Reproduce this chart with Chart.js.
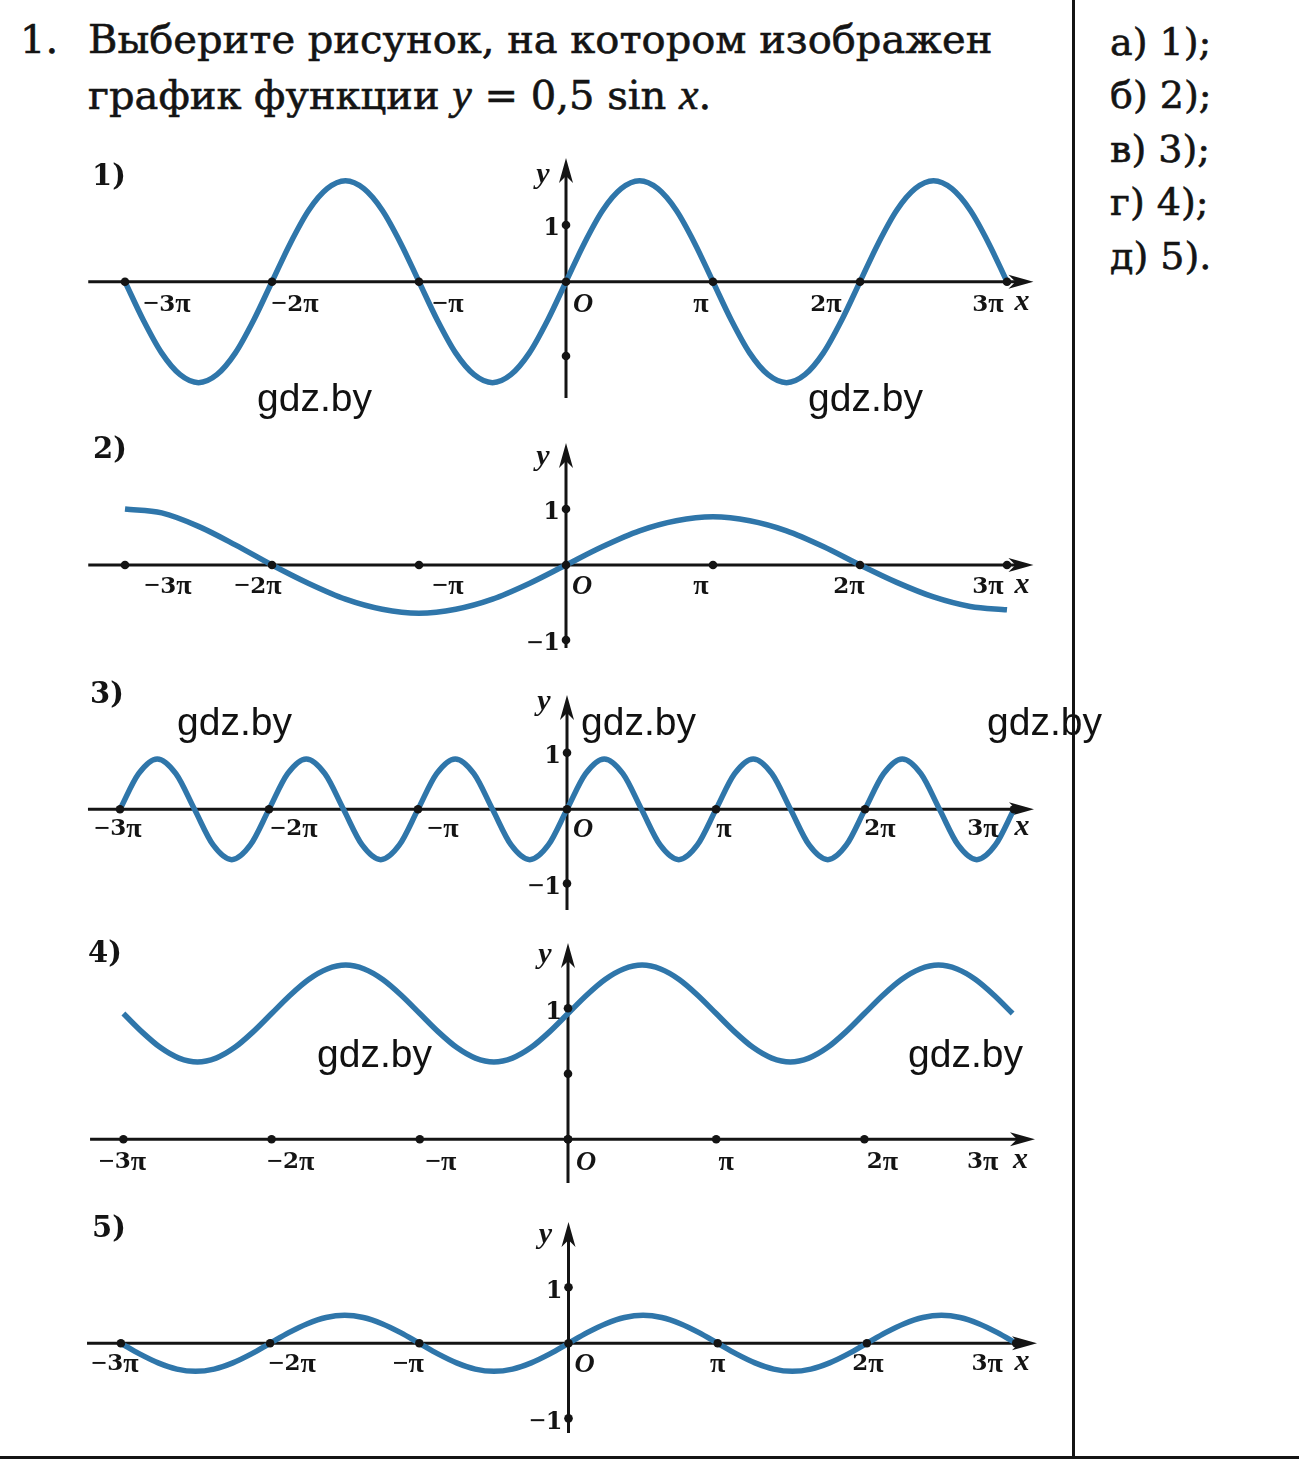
<!DOCTYPE html>
<html lang="ru">
<head>
<meta charset="utf-8">
<title>y = 0,5 sin x</title>
<script src="https://cdn.jsdelivr.net/npm/chart.js@4.4.1/dist/chart.umd.min.js"></script>
<style>
  html, body { margin: 0; padding: 0; background: #fff; }
  #page { position: relative; width: 1299px; height: 1459px; overflow: hidden;
          font-family: "DejaVu Serif", serif; color: #141414; }
  #page canvas { position: absolute; left: 0; }
  .t { position: absolute; white-space: nowrap; font-size: 40px; line-height: 1;
       -webkit-text-stroke: 0.6px #141414; }
  .a { position: absolute; white-space: nowrap; font-size: 38px; line-height: 1;
       -webkit-text-stroke: 0.6px #141414; }
  .t i { font-family: "Liberation Serif", serif; font-size: 44px; }
  .n { position: absolute; white-space: nowrap; font-size: 29px; line-height: 1; font-weight: bold; }
  .wm { position: absolute; white-space: nowrap; font-family: "Liberation Sans", Arial, sans-serif;
        font-size: 39px; line-height: 1; color: #111; z-index: 2; }
  .rule { position: absolute; background: #141414; z-index: 3; }
</style>
</head>
<body>
<div id="page">
  <div class="t" style="left:20px;top:19px">1.</div>
  <div class="t" style="left:88px;top:19px">Выберите рисунок, на котором изображен</div>
  <div class="t" style="left:88px;top:73px">график функции <i>y</i> = 0,5 sin <i>x</i>.</div>

  <div class="a" style="left:1110px;top:23px">а) 1);</div>
  <div class="a" style="left:1110px;top:76px">б) 2);</div>
  <div class="a" style="left:1110px;top:130px">в) 3);</div>
  <div class="a" style="left:1110px;top:183px">г) 4);</div>
  <div class="a" style="left:1110px;top:237px">д) 5).</div>

  <canvas id="c1" width="1299" height="285" style="top:140px"></canvas>
  <canvas id="c2" width="1299" height="240" style="top:425px"></canvas>
  <canvas id="c3" width="1299" height="260" style="top:665px"></canvas>
  <canvas id="c4" width="1299" height="270" style="top:925px"></canvas>
  <canvas id="c5" width="1299" height="255" style="top:1195px"></canvas>

  <div class="n" style="left:92px;top:161px">1)</div>
  <div class="n" style="left:93px;top:434px">2)</div>
  <div class="n" style="left:90px;top:679px">3)</div>
  <div class="n" style="left:88px;top:938px">4)</div>
  <div class="n" style="left:92px;top:1213px">5)</div>

  <div class="wm" style="left:257px;top:378px">gdz.by</div>
  <div class="wm" style="left:808px;top:378px">gdz.by</div>
  <div class="wm" style="left:177px;top:702px">gdz.by</div>
  <div class="wm" style="left:581px;top:702px">gdz.by</div>
  <div class="wm" style="left:987px;top:702px">gdz.by</div>
  <div class="wm" style="left:317px;top:1034px">gdz.by</div>
  <div class="wm" style="left:908px;top:1034px">gdz.by</div>

  <div class="rule" style="left:1072px;top:0;width:3px;height:1459px"></div>
  <div class="rule" style="left:0;top:1456px;width:1299px;height:3px"></div>
</div>
<script>
// x values are in units of pi
var xTickValues = [-3, -2, -1, 0, 1, 2, 3];
var xTickLabels = ['\u22123\u03c0', '\u22122\u03c0', '\u2212\u03c0', 'O', '\u03c0', '2\u03c0', '3\u03c0'];

var xQuarter = [-3, -2.75, -2.5, -2.25, -2, -1.75, -1.5, -1.25, -1, -0.75, -0.5, -0.25,
                0, 0.25, 0.5, 0.75, 1, 1.25, 1.5, 1.75, 2, 2.25, 2.5, 2.75, 3];
var xEighth = [-3, -2.875, -2.75, -2.625, -2.5, -2.375, -2.25, -2.125,
               -2, -1.875, -1.75, -1.625, -1.5, -1.375, -1.25, -1.125,
               -1, -0.875, -0.75, -0.625, -0.5, -0.375, -0.25, -0.125,
               0, 0.125, 0.25, 0.375, 0.5, 0.625, 0.75, 0.875,
               1, 1.125, 1.25, 1.375, 1.5, 1.625, 1.75, 1.875,
               2, 2.125, 2.25, 2.375, 2.5, 2.625, 2.75, 2.875, 3];

// curves
var curve1 = [0, -0.68, -1.26, -1.64, -1.78, -1.64, -1.26, -0.68,
              0, 0.68, 1.26, 1.64, 1.78, 1.64, 1.26, 0.68,
              0, -0.68, -1.26, -1.64, -1.78, -1.64, -1.26, -0.68,
              0, 0.68, 1.26, 1.64, 1.78, 1.64, 1.26, 0.68,
              0, -0.68, -1.26, -1.64, -1.78, -1.64, -1.26, -0.68,
              0, 0.68, 1.26, 1.64, 1.78, 1.64, 1.26, 0.68,
              0];
var curve2 = [1.0, 0.93, 0.69, 0.36, 0, -0.33, -0.61, -0.79, -0.86, -0.79, -0.61, -0.33,
              0, 0.33, 0.61, 0.79, 0.86, 0.79, 0.61, 0.33, 0, -0.31, -0.57, -0.74, -0.8];
var curve3 = [0, 0.63, 0.89, 0.63, 0, -0.63, -0.89, -0.63,
              0, 0.63, 0.89, 0.63, 0, -0.63, -0.89, -0.63,
              0, 0.63, 0.89, 0.63, 0, -0.63, -0.89, -0.63,
              0, 0.63, 0.89, 0.63, 0, -0.63, -0.89, -0.63,
              0, 0.63, 0.89, 0.63, 0, -0.63, -0.89, -0.63,
              0, 0.63, 0.89, 0.63, 0, -0.63, -0.89, -0.63,
              0];
var curve4 = [0.96, 0.82, 0.70, 0.62, 0.59, 0.62, 0.70, 0.82,
              0.96, 1.10, 1.22, 1.30, 1.33, 1.30, 1.22, 1.10,
              0.96, 0.82, 0.70, 0.62, 0.59, 0.62, 0.70, 0.82,
              0.96, 1.10, 1.22, 1.30, 1.33, 1.30, 1.22, 1.10,
              0.96, 0.82, 0.70, 0.62, 0.59, 0.62, 0.70, 0.82,
              0.96, 1.10, 1.22, 1.30, 1.33, 1.30, 1.22, 1.10,
              0.96];
var curve5 = [0, -0.19, -0.35, -0.46, -0.5, -0.46, -0.35, -0.19,
              0, 0.19, 0.35, 0.46, 0.5, 0.46, 0.35, 0.19,
              0, -0.19, -0.35, -0.46, -0.5, -0.46, -0.35, -0.19,
              0, 0.19, 0.35, 0.46, 0.5, 0.46, 0.35, 0.19,
              0, -0.19, -0.35, -0.46, -0.5, -0.46, -0.35, -0.19,
              0, 0.19, 0.35, 0.46, 0.5, 0.46, 0.35, 0.19,
              0];

// y axis marks
var yTicks1 = [1, -1.31];  var yTickLabels1 = ['1', ''];
var yTicks2 = [1, -1.34];  var yTickLabels2 = ['1', '\u22121'];
var yTicks3 = [1, -1.31];  var yTickLabels3 = ['1', '\u22121'];
var yTicks4 = [1, 0.5, 0]; var yTickLabels4 = ['1', '', ''];
var yTicks5 = [1, -1.34];  var yTickLabels5 = ['1', '\u22121'];

var ink = '#141414';
var curveColor = '#2f76aa';

// layout of each panel (pixels on the page)
var panels = [
  {id: 'c1', top: 140, height: 285, origin: 566, piPx: 147, axisY: 281.7, unitPx: 56.7,
   xAxis: [-3.25, 3.18], yAxis: [-2.05, 2.18], xs: xEighth, ys: curve1,
   xDots: [-3, -2, -1, 0, 1, 2, 3], yTicks: yTicks1, yLabels: yTickLabels1,
   labelDx: [42, 23, 29, 17, -12, -34, -19], labelDy: 23, xLetterDx: 15, yLetterDy: 17},
  {id: 'c2', top: 425, height: 240, origin: 566, piPx: 147, axisY: 565, unitPx: 56,
   xAxis: [-3.25, 3.18], yAxis: [-1.48, 2.18], xs: xQuarter, ys: curve2,
   xDots: [-3, -2, -1, 0, 1, 2, 3], yTicks: yTicks2, yLabels: yTickLabels2,
   labelDx: [43, -14, 29, 16, -12, -11, -19], labelDy: 22, xLetterDx: 15, yLetterDy: 14},
  {id: 'c3', top: 665, height: 260, origin: 567, piPx: 149, axisY: 809.3, unitPx: 56.6,
   xAxis: [-3.215, 3.134], yAxis: [-1.78, 2.02], xs: xEighth, ys: curve3,
   xDots: [-3, -2, -1, 0, 1, 2, 3], yTicks: yTicks3, yLabels: yTickLabels3,
   labelDx: [-2, 25, 25, 16, 8, 15, -31], labelDy: 20, xLetterDx: 8, yLetterDy: 7},
  {id: 'c4', top: 925, height: 270, origin: 568, piPx: 148.2, axisY: 1139.3, unitPx: 131,
   xAxis: [-3.225, 3.151], yAxis: [-0.334, 1.498], xs: xEighth, ys: curve4,
   xDots: [-3, -2, -1, 0, 1, 2], yTicks: yTicks4, yLabels: yTickLabels4,
   labelDx: [-1, 19, 21, 18, 10, 18, -30], labelDy: 23, xLetterDx: 8, yLetterDy: 12},
  {id: 'c5', top: 1195, height: 255, origin: 568.5, piPx: 149.2, axisY: 1343.3, unitPx: 56,
   xAxis: [-3.227, 3.14], yAxis: [-1.6, 2.166], xs: xEighth, ys: curve5,
   xDots: [-3, -2, -1, 0, 1, 2, 3], yTicks: yTicks5, yLabels: yTickLabels5,
   labelDx: [-6, 22, -11, 16, 0, 1, -29], labelDy: 21, xLetterDx: 6, yLetterDy: 13}
];

function arrowHead(ctx, x, y, ang) {
  ctx.save();
  ctx.translate(x, y);
  ctx.rotate(ang);
  ctx.beginPath();
  ctx.moveTo(0, 0);
  ctx.lineTo(-25, -7);
  ctx.lineTo(-18, 0);
  ctx.lineTo(-25, 7);
  ctx.closePath();
  ctx.fill();
  ctx.restore();
}

function dot(ctx, x, y) {
  ctx.beginPath();
  ctx.arc(x, y, 4.3, 0, Math.PI * 2);
  ctx.fill();
}

/* digits come from DejaVu Serif, the minus and pi from Liberation Serif (closer to the book's glyphs) */
function drawMathLabel(ctx, text, x, y, size, align) {
  var runs = Array.from(text).map(function(ch) {
    var alt = (ch === '\u2212' || ch === '\u03c0');
    return {ch: ch, font: alt ? 'bold ' + Math.round(size * 1.2) + 'px "Liberation Serif"'
                              : 'bold ' + size + 'px "DejaVu Serif"'};
  });
  var total = 0;
  runs.forEach(function(r) { ctx.font = r.font; r.w = ctx.measureText(r.ch).width; total += r.w; });
  var cx = align === 'right' ? x - total : x - total / 2;
  ctx.textAlign = 'left';
  runs.forEach(function(r) { ctx.font = r.font; ctx.fillText(r.ch, cx, y); cx += r.w; });
}

/* draws the axes with arrows before the curve, then the dots and the labels on top */
function sketchPlugin(p) {
  return {
    id: 'sketch_' + p.id,
    beforeDatasetsDraw: function(chart) {
      var ctx = chart.ctx, sx = chart.scales.x, sy = chart.scales.y;
      var x0 = sx.getPixelForValue(0), y0 = sy.getPixelForValue(0);
      var xa = sx.getPixelForValue(p.xAxis[0]), xb = sx.getPixelForValue(p.xAxis[1]);
      var ya = sy.getPixelForValue(p.yAxis[0]), yb = sy.getPixelForValue(p.yAxis[1]);
      ctx.save();
      ctx.strokeStyle = ink;
      ctx.fillStyle = ink;
      ctx.lineWidth = 3;
      ctx.beginPath();
      ctx.moveTo(xa, y0); ctx.lineTo(xb - 14, y0);
      ctx.moveTo(x0, ya); ctx.lineTo(x0, yb + 14);
      ctx.stroke();
      arrowHead(ctx, xb, y0, 0);
      arrowHead(ctx, x0, yb, -Math.PI / 2);
      ctx.restore();
    },
    afterDatasetsDraw: function(chart) {
      var ctx = chart.ctx, sx = chart.scales.x, sy = chart.scales.y;
      var x0 = sx.getPixelForValue(0), y0 = sy.getPixelForValue(0);
      var yb = sy.getPixelForValue(p.yAxis[1]);
      ctx.save();
      ctx.fillStyle = ink;
      p.xDots.forEach(function(v) { dot(ctx, sx.getPixelForValue(v), y0); });
      p.yTicks.forEach(function(v) { dot(ctx, x0, sy.getPixelForValue(v)); });

      ctx.textBaseline = 'middle';
      xTickValues.forEach(function(v, i) {
        var px = sx.getPixelForValue(v) + p.labelDx[i];
        if (xTickLabels[i] === 'O') {
          ctx.textAlign = 'center';
          ctx.font = 'italic bold 28px "Liberation Serif"';
          ctx.fillText('O', px, y0 + p.labelDy);
        } else {
          drawMathLabel(ctx, xTickLabels[i], px, y0 + p.labelDy, 23, 'center');
        }
      });
      ctx.textAlign = 'center';
      ctx.font = 'italic bold 30px "Liberation Serif"';
      ctx.fillText('x', sx.getPixelForValue(3) + p.xLetterDx, y0 + p.labelDy - 2);
      ctx.fillText('y', x0 - 23, yb + p.yLetterDy);

      p.yTicks.forEach(function(v, i) {
        if (p.yLabels[i]) drawMathLabel(ctx, p.yLabels[i], x0 - 6, sy.getPixelForValue(v) + 4, 24, 'right');
      });
      ctx.restore();
    }
  };
}

panels.forEach(function(p) {
  var W = 1299;
  var points = p.xs.map(function(x, i) { return {x: x, y: p.ys[i]}; });
  new Chart(document.getElementById(p.id), {
    type: 'line',
    data: {
      datasets: [{
        data: points,
        borderColor: curveColor,
        borderWidth: 5.5,
        borderCapStyle: 'butt',
        pointRadius: 0,
        cubicInterpolationMode: 'monotone',
        fill: false
      }]
    },
    options: {
      responsive: false,
      animation: false,
      events: [],
      layout: {padding: 0},
      plugins: {legend: {display: false}, tooltip: {enabled: false}},
      scales: {
        x: {type: 'linear', display: false, bounds: 'data',
            min: (0 - p.origin) / p.piPx, max: (W - p.origin) / p.piPx},
        y: {type: 'linear', display: false, bounds: 'data',
            min: (p.axisY - p.top - p.height) / p.unitPx, max: (p.axisY - p.top) / p.unitPx}
      }
    },
    plugins: [sketchPlugin(p)]
  });
});
</script>
</body>
</html>
